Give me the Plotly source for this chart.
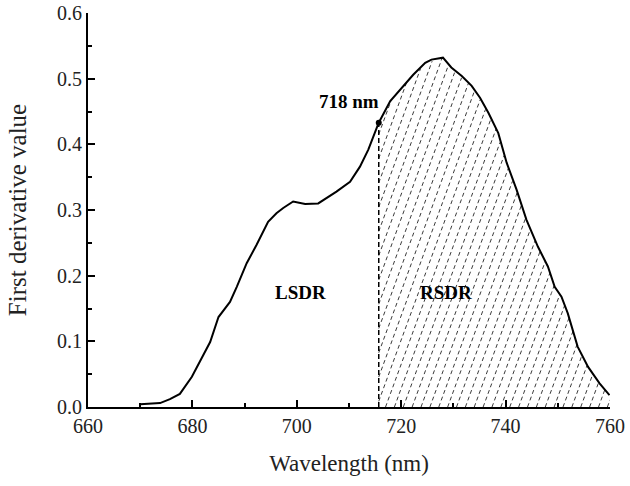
import numpy as np
import plotly.graph_objects as go

# first derivative spectrum
wavelength = [670, 673.8, 675.7, 677, 677.6, 679.9, 681.5, 683.4, 685.0, 687.2,
              688.5, 690.4, 692.3, 694.5, 696.1, 697.4, 699.3, 700.3, 701.6, 704.1,
              707.6, 710.2, 712.1, 713.7, 715.7, 717.9, 720.4, 722.3, 724.6, 725.8,
              728.0, 729.6, 731.6, 733.5, 735.1, 736.7, 738.6, 740.2, 742.1, 744.0,
              746.2, 748.1, 749.4, 750.7, 751.9, 753.8, 755.8, 758.0, 759.9]
derivative = [0.004, 0.006, 0.012, 0.018, 0.020, 0.046, 0.071, 0.099, 0.137, 0.160,
              0.183, 0.219, 0.247, 0.282, 0.295, 0.303, 0.313, 0.311, 0.309, 0.310,
              0.328, 0.343, 0.366, 0.392, 0.433, 0.466, 0.489, 0.506, 0.524, 0.529,
              0.532, 0.517, 0.504, 0.489, 0.471, 0.448, 0.417, 0.372, 0.331, 0.285,
              0.244, 0.214, 0.183, 0.168, 0.143, 0.092, 0.061, 0.036, 0.018]

red_edge = 715.7      # where the dot sits on the curve
red_edge_label = "718 nm"
x_ticks = [660, 680, 700, 720, 740, 760]

font = "Liberation Serif, Times New Roman, serif"

# hatch lines for the RSDR area, clipped under the curve
hatch_x, hatch_y = [], []
slope = 46.0  # nm per unit of y
for b in np.arange(red_edge - 0.6 * slope, 760, 1.7):
    xs = np.linspace(max(b, red_edge), 760, 300)
    ys = (xs - b) / slope
    keep = ys <= np.interp(xs, wavelength, derivative)
    if keep.sum() < 2:
        continue
    hatch_x += list(xs[keep]) + [None]
    hatch_y += list(ys[keep]) + [None]

dot_y = float(np.interp(red_edge, wavelength, derivative))

fig = go.Figure()
fig.add_trace(go.Scatter(x=hatch_x, y=hatch_y, mode="lines",
                         line=dict(color="#3a3a3a", width=1, dash="4px,3px"),
                         hoverinfo="skip"))
fig.add_trace(go.Scatter(x=[red_edge, red_edge], y=[0, dot_y],
                         mode="lines", line=dict(color="black", width=1.5, dash="5px,3px")))
fig.add_trace(go.Scatter(x=wavelength, y=derivative, mode="lines",
                         line=dict(color="black", width=2)))
fig.add_trace(go.Scatter(x=[red_edge], y=[dot_y],
                         mode="markers", marker=dict(color="black", size=6)))

fig.add_annotation(x=710.0, y=0.465, text="<b>%s</b>" % red_edge_label,
                   showarrow=False, font=dict(size=19, color="black"))
fig.add_annotation(x=700.8, y=0.174, text="<b>LSDR</b>",
                   showarrow=False, font=dict(size=19, color="black"))
fig.add_annotation(x=728.6, y=0.175, text="<b>RSDR</b>",
                   showarrow=False, font=dict(size=19, color="black"))

axis_style = dict(showline=True, linecolor="black", linewidth=2, ticks="inside",
                  ticklen=7, tickwidth=1.5, tickcolor="black", showgrid=False,
                  zeroline=False, tickfont=dict(size=20, color="#222"),
                  mirror=False, automargin=False)

fig.update_xaxes(range=[660, 760], tickvals=x_ticks,
                 minor=dict(dtick=10, ticks="inside", ticklen=4, tickcolor="black", tickwidth=1.5),
                 title=dict(text="Wavelength (nm)", font=dict(size=23, color="#222"), standoff=19),
                 **axis_style)
fig.update_yaxes(range=[0, 0.6], dtick=0.1, tickformat=".1f",
                 minor=dict(dtick=0.05, ticks="inside", ticklen=4, tickcolor="black", tickwidth=1.5),
                 title=dict(text="First derivative value", font=dict(size=25, color="#222"), standoff=23),
                 **axis_style)

fig.update_layout(width=630, height=486, showlegend=False,
                  plot_bgcolor="white", paper_bgcolor="white",
                  font=dict(family=font, color="#222"),
                  margin=dict(l=88, r=20, t=13, b=79))

# drop the page's default body margin so the figure sits at the window corner
fig.write_html("out.html", config={"displayModeBar": False},
               post_script="document.body.style.margin='0';")
